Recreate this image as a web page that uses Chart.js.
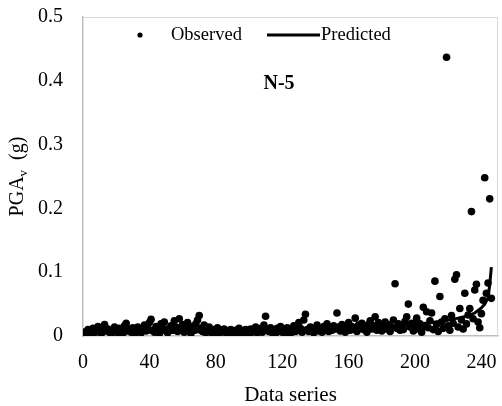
<!DOCTYPE html>
<html>
<head>
<meta charset="utf-8">
<script src="https://cdn.jsdelivr.net/npm/chart.js@4.4.1/dist/chart.umd.min.js"></script>
<style>
  html, body { margin: 0; padding: 0; background: #fff; }
  #wrap { width: 502px; height: 406px; }
</style>
</head>
<body>
<div id="wrap"><canvas id="c" width="502" height="406"></canvas></div>
<script>
// observed PGAv, data series 1..246
const observed = [
  .006,.004,.010,.003,.008,.012,.005,.009,.015,.007,
  .004,.013,.018,.008,.011,.006,.003,.010,.014,.007,
  .005,.012,.009,.004,.016,.020,.008,.011,.006,.013,
  .003,.009,.014,.007,.005,.010,.017,.008,.012,.021,
  .026,.009,.006,.015,.011,.004,.019,.013,.022,.008,
  .005,.012,.016,.009,.024,.014,.007,.027,.011,.018,
  .006,.013,.021,.010,.004,.015,.009,.019,.025,.032,
  .012,.007,.017,.005,.011,.014,.008,.003,.010,.006,
  .013,.004,.009,.007,.011,.005,.008,.003,.010,.006,
  .004,.009,.006,.012,.003,.008,.005,.010,.007,.004,
  .011,.006,.009,.014,.005,.008,.012,.006,.017,.031,
  .010,.007,.013,.005,.009,.004,.012,.008,.015,.006,
  .010,.005,.013,.008,.004,.011,.016,.007,.009,.021,
  .012,.006,.025,.034,.010,.007,.014,.009,.005,.012,
  .017,.008,.011,.006,.015,.010,.019,.007,.013,.009,
  .016,.011,.036,.014,.008,.018,.010,.006,.013,.021,
  .009,.015,.011,.028,.007,.017,.012,.020,.010,.014,
  .006,.018,.024,.011,.016,.030,.009,.021,.013,.008,
  .015,.022,.011,.018,.007,.014,.025,.082,.012,.019,
  .009,.016,.010,.023,.030,.050,.014,.020,.008,.017,
  .028,.011,.019,.006,.045,.015,.038,.013,.024,.036,
  .010,.086,.018,.007,.062,.022,.012,.027,.437,.016,
  .009,.032,.020,.089,.096,.014,.043,.025,.011,.067,
  .019,.033,.043,.195,.027,.072,.081,.022,.013,.035,
  .056,.248,.067,.083,.215,.059
];

// predicted curve, read at these data series positions
const predX = [1, 20, 40, 60, 80, 100, 120, 140, 160, 180, 200, 210, 218, 226, 232, 236, 240, 242, 244, 245, 246];
const predY = [.004, .005, .006, .006, .007, .007, .008, .009, .011, .014, .018, .021, .024, .028, .032, .036, .044, .050, .060, .080, .108];

const xTicks = [0, 40, 80, 120, 160, 200, 240];
const yTicks = [0, 0.1, 0.2, 0.3, 0.4, 0.5];

const SERIF = '"Liberation Serif", "Times New Roman", serif';

const extras = {
  id: 'extras',
  afterDraw(chart) {
    const { ctx, chartArea: a } = chart;
    ctx.save();
    // frame top / right
    ctx.strokeStyle = '#d9d9d9';
    ctx.lineWidth = 1;
    ctx.beginPath();
    ctx.moveTo(a.left, a.top + 0.5);
    ctx.lineTo(a.right - 0.5, a.top + 0.5);
    ctx.lineTo(a.right - 0.5, a.bottom);
    ctx.stroke();

    ctx.fillStyle = '#000';
    // legend
    const ds = chart.data.datasets;
    ctx.beginPath();
    ctx.arc(140, 35, 2.6, 0, Math.PI * 2);
    ctx.fill();
    ctx.font = '18.5px ' + SERIF;
    ctx.textBaseline = 'middle';
    ctx.textAlign = 'left';
    ctx.fillText(ds[1].label, 171, 35);
    ctx.strokeStyle = '#000';
    ctx.lineWidth = 3;
    ctx.beginPath();
    ctx.moveTo(267, 35);
    ctx.lineTo(320, 35);
    ctx.stroke();
    ctx.fillText(ds[0].label, 321, 35);

    // panel label
    ctx.font = 'bold 20px ' + SERIF;
    ctx.textAlign = 'center';
    ctx.fillText('N-5', 279, 84);

    // x title
    ctx.font = '21px ' + SERIF;
    ctx.textBaseline = 'alphabetic';
    ctx.fillText('Data series', (a.left + a.right) / 2, 401);

    // y title with subscript
    ctx.translate(23, (a.top + a.bottom) / 2);
    ctx.rotate(-Math.PI / 2);
    const big = '20px ' + SERIF, small = '13px ' + SERIF;
    ctx.font = big; const w1 = ctx.measureText('PGA').width;
    ctx.font = small; const w2 = ctx.measureText('v').width;
    ctx.font = big; const w3 = ctx.measureText('  (g)').width;
    let x0 = -(w1 + w2 + w3) / 2;
    ctx.textAlign = 'left';
    ctx.font = big; ctx.fillText('PGA', x0, 0);
    ctx.font = small; ctx.fillText('v', x0 + w1, 4);
    ctx.font = big; ctx.fillText('  (g)', x0 + w1 + w2, 0);
    ctx.restore();
  }
};

new Chart(document.getElementById('c'), {
  type: 'scatter',
  data: {
    datasets: [
      {
        label: 'Predicted',
        type: 'line',
        data: predX.map((x, i) => ({ x, y: predY[i] })),
        borderColor: '#000',
        borderWidth: 3,
        pointRadius: 0,
        fill: false,
        tension: 0,
        order: 0
      },
      {
        label: 'Observed',
        data: observed.map((y, i) => ({ x: i + 1, y })),
        backgroundColor: '#000',
        borderColor: '#000',
        borderWidth: 0,
        pointRadius: 3.8,
        order: 1
      }
    ]
  },
  options: {
    responsive: false,
    animation: false,
    layout: { padding: { top: 17, right: 2, left: 0, bottom: 0 } },
    plugins: { legend: { display: false }, tooltip: { enabled: false } },
    scales: {
      x: {
        type: 'linear',
        min: 0, max: 250,
        afterBuildTicks: s => { s.ticks = xTicks.map(v => ({ value: v })); },
        afterFit: s => { s.height = 70; s.paddingLeft = 0; s.paddingRight = 0; },
        grid: { display: false, drawTicks: false },
        border: { display: true, color: '#bfbfbf', width: 1.5 },
        ticks: { color: '#000', padding: 15, maxRotation: 0, font: { family: SERIF, size: 20 } }
      },
      y: {
        min: 0, max: 0.5,
        afterBuildTicks: s => { s.ticks = yTicks.map(v => ({ value: v })); },
        afterFit: s => { s.width = 83; s.paddingTop = 0; s.paddingBottom = 0; },
        grid: { display: false, drawTicks: false },
        border: { display: true, color: '#bfbfbf', width: 1.5 },
        ticks: { color: '#000', padding: 20, font: { family: SERIF, size: 20 },
          callback: v => String(+v.toFixed(1)) }
      }
    }
  },
  plugins: [extras]
});
</script>
</body>
</html>
